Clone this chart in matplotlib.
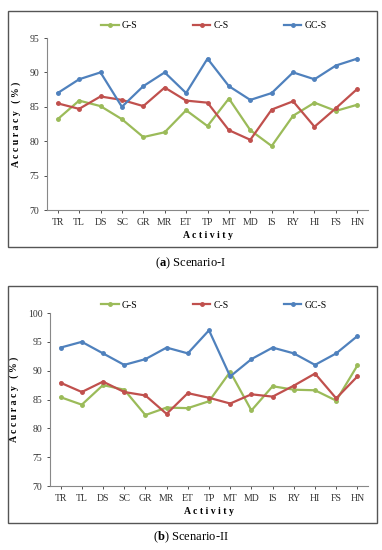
import matplotlib
matplotlib.use("Agg")
import matplotlib.pyplot as plt
from matplotlib.patches import Rectangle

plt.rcParams['font.family'] = ['Liberation Serif', 'DejaVu Serif']
plt.rcParams['mathtext.fontset'] = 'custom'
plt.rcParams['mathtext.bf'] = 'Liberation Serif:bold'
plt.rcParams['mathtext.rm'] = 'Liberation Serif'

activities = ['TR', 'TL', 'DS', 'SC', 'GR', 'MR', 'ET', 'TP', 'MT', 'MD', 'IS', 'RY', 'HI', 'FS', 'HN']
series_names = ['G-S', 'C-S', 'GC-S']

# Scenario-I
gs_1 = [83.2, 85.9, 85.1, 83.2, 80.6, 81.3, 84.5, 82.2, 86.2, 81.6, 79.3, 83.7, 85.6, 84.4, 85.3]
cs_1 = [85.5, 84.7, 86.5, 86.0, 85.1, 87.8, 85.9, 85.6, 81.6, 80.2, 84.6, 85.8, 82.1, 84.8, 87.6]
gcs_1 = [87, 89, 90, 85, 88, 90, 87, 92, 88, 86, 87, 90, 89, 91, 92]

# Scenario-II
gs_2 = [85.4, 84.1, 87.5, 86.7, 82.3, 83.6, 83.5, 84.7, 89.8, 83.1, 87.3, 86.7, 86.6, 84.8, 90.9]
cs_2 = [87.9, 86.3, 88.1, 86.3, 85.7, 82.5, 86.1, 85.3, 84.3, 85.9, 85.5, 87.4, 89.5, 85.2, 89.0]
gcs_2 = [94, 95, 93, 91, 92, 94, 93, 97, 89, 92, 94, 93, 91, 93, 96]

colors = ['#9BBB59', '#C0504D', '#4F81BD']
W, H = 382, 550

fig = plt.figure(figsize=(W / 100, H / 100), dpi=100)


def px_rect(x0, y0, x1, y1):
    return [x0 / W, 1 - y1 / H, (x1 - x0) / W, (y1 - y0) / H]


def panel(ax_box, frame, data, ylim, yticks, cap_y, letter, name, leg_y):
    fx0, fy0, fx1, fy1 = frame
    fig.patches.append(Rectangle((fx0 / W, 1 - fy1 / H), (fx1 - fx0) / W, (fy1 - fy0) / H,
                                 transform=fig.transFigure, fill=False,
                                 edgecolor='#555555', linewidth=1.0))
    ax = fig.add_axes(px_rect(*ax_box))
    x = list(range(len(activities)))
    lines = []
    for vals, c, nm in zip(data, colors, series_names):
        ln, = ax.plot(x, vals, color=c, lw=1.6, marker='o', ms=2.5, label=nm)
        lines.append(ln)
    ax.set_xlim(-0.5, len(activities) - 0.5)
    ax.set_ylim(*ylim)
    ax.set_yticks(yticks)
    ax.set_xticks(x)
    ax.set_xticklabels(activities)
    ax.tick_params(axis='both', labelsize=7, colors='#333333', length=2, width=0.6)
    for s in ['top', 'right']:
        ax.spines[s].set_visible(False)
    for s in ['left', 'bottom']:
        ax.spines[s].set_color('#888888')
        ax.spines[s].set_linewidth(0.8)
    ax.set_xlabel('A c t i v i t y', fontsize=7, fontweight='bold', labelpad=3)
    ax.set_ylabel('A c c u r a c y   ( % )', fontsize=7, fontweight='bold', labelpad=6)
    fig.legend(handles=lines, loc='center', bbox_to_anchor=(0.56, 1 - leg_y / H),
               ncol=3, frameon=False, fontsize=7, handlelength=1.8, columnspacing=5.7,
               handletextpad=0.3, markerscale=1.0)
    fig.text(0.5, 1 - cap_y / H, r'($\mathbf{' + letter + r'}$) ' + name,
             ha='center', va='center', fontsize=9)
    return ax


panel((47, 38, 368, 210), (8, 11, 377, 247), [gs_1, cs_1, gcs_1],
      (70, 95), [70, 75, 80, 85, 90, 95], 263, 'a', 'Scenario-I', 26)
panel((50, 313, 368, 486), (8, 286, 377, 523), [gs_2, cs_2, gcs_2],
      (70, 100), [70, 75, 80, 85, 90, 95, 100], 537, 'b', 'Scenario-II', 305)

fig.savefig('out.png', dpi=100)
